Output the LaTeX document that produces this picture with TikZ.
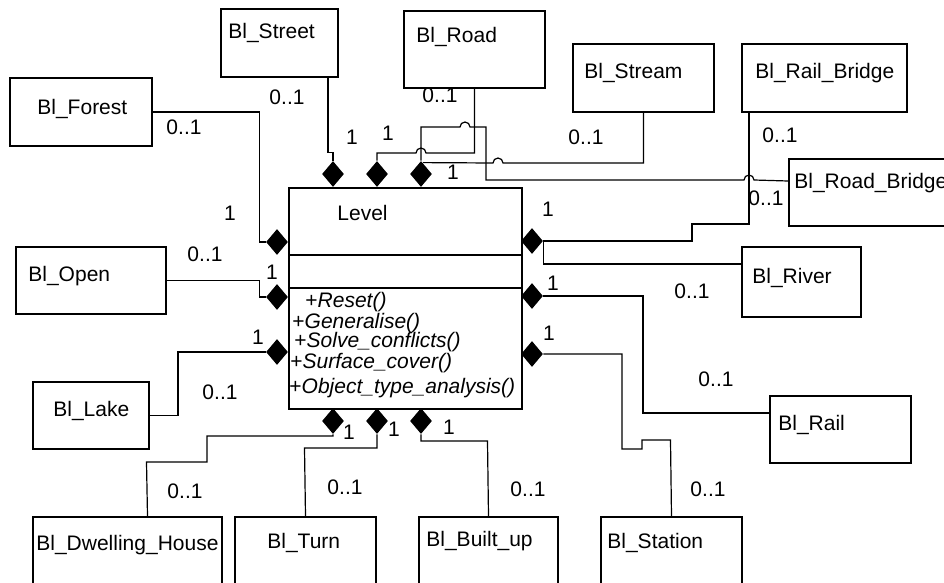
\documentclass[tikz,border=0pt]{standalone}
\usepackage{fontspec}
\setmainfont{Liberation Sans}
\usetikzlibrary{shapes.geometric}

\tikzset{
  cls/.style={draw,line width=1pt,anchor=north west,inner sep=0pt},
  txt/.style={anchor=west,inner sep=0pt},
  mult/.style={inner sep=0pt},
  agg/.style={diamond,fill=black,inner sep=0pt,minimum width=11pt,minimum height=13pt},
  conn/.style={line width=0.6pt},
  every node/.style={font=\fontsize{10.5}{12}\selectfont}
}
% line hops over crossing wires
\newcommand{\hopr}{arc[start angle=180,end angle=0,radius=2.5pt]}
\newcommand{\hopl}{arc[start angle=0,end angle=180,radius=2.5pt]}

\begin{document}
\begin{tikzpicture}[x=0.5pt,y=-0.5pt]

      \useasboundingbox (0,0) rectangle (944,583);

      % central class
      \node [cls,minimum width=116.5pt,minimum height=110.5pt] (level) at (288,187) {};
      \draw [line width=1pt] (level.west |- 0,255) -- (level.east |- 0,255);
      \draw [line width=1pt] (level.west |- 0,288) -- (level.east |- 0,288);
      \node [txt] (levelname) at (337,213) {Level};
      \node [txt] (op1) at (305,302) {+\textit{Reset()}};
      \node [txt] (op2) at (292,323) {+\textit{Generalise()}};
      \node [txt] (op3) at (294,342) {+\textit{Solve\_conflicts()}};
      \node [txt] (op4) at (290,363) {+\textit{Surface\_cover()}};
      \node [txt] (op5) at (289,388) {+\textit{Object\_type\_analysis()}};

      % part classes
      \node [cls,minimum width=58.5pt,minimum height=34pt] (street) at (220,8) {};
      \node [txt] (streetname) at (228,33) {Bl\_Street};
      \node [cls,minimum width=70.5pt,minimum height=38.5pt] (road) at (403,10) {};
      \node [txt] (roadname) at (416,37) {Bl\_Road};
      \node [cls,minimum width=70.5pt,minimum height=34pt] (stream) at (572,43) {};
      \node [txt] (streamname) at (584,73) {Bl\_Stream};
      \node [cls,minimum width=82.5pt,minimum height=34pt] (railbridge) at (741,43) {};
      \node [txt] (railbridgename) at (755,73) {Bl\_Rail\_Bridge};
      \node [cls,minimum width=86pt,minimum height=33.5pt] (roadbridge) at (788,158) {};
      \node [txt] (roadbridgename) at (794,183) {Bl\_Road\_Bridge};
      \node [cls,minimum width=71pt,minimum height=34pt] (forest) at (9,77) {};
      \node [txt] (forestname) at (37,109) {Bl\_Forest};
      \node [cls,minimum width=75pt,minimum height=33.5pt] (open) at (15,246) {};
      \node [txt] (openname) at (28,276) {Bl\_Open};
      \node [cls,minimum width=59.5pt,minimum height=35pt] (river) at (741,246) {};
      \node [txt] (rivername) at (752,278) {Bl\_River};
      \node [cls,minimum width=58pt,minimum height=33.5pt] (lake) at (32,381) {};
      \node [txt] (lakename) at (53,411) {Bl\_Lake};
      \node [cls,minimum width=70.5pt,minimum height=33.5pt] (rail) at (769,395) {};
      \node [txt] (railname) at (778,425) {Bl\_Rail};
      \node [cls,minimum width=94.5pt,minimum height=40pt] (dwelling) at (32,516) {};
      \node [txt] (dwellingname) at (36,545) {Bl\_Dwelling\_House};
      \node [cls,minimum width=70.5pt,minimum height=40pt] (turn) at (234,516) {};
      \node [txt] (turnname) at (267,543) {Bl\_Turn};
      \node [cls,minimum width=69.5pt,minimum height=40pt] (builtup) at (418,516) {};
      \node [txt] (builtupname) at (426,541) {Bl\_Built\_up};
      \node [cls,minimum width=70.5pt,minimum height=40pt] (station) at (600,516) {};
      \node [txt] (stationname) at (607,543) {Bl\_Station};

      % aggregation diamonds
      \node [agg] (dL1) at (277,242) {};
      \node [agg] (dL2) at (277,297) {};
      \node [agg] (dL3) at (277,352) {};
      \node [agg] (dT1) at (333,174) {};
      \node [agg] (dT2) at (377,174) {};
      \node [agg] (dT3) at (421,174) {};
      \node [agg] (dR1) at (532,241) {};
      \node [agg] (dR2) at (532,296) {};
      \node [agg] (dR3) at (532,354) {};
      \node [agg] (dB1) at (333,421) {};
      \node [agg] (dB2) at (377,421) {};
      \node [agg] (dB3) at (421,421) {};

      % wires
      \draw [conn] (forest.east) -| ([xshift=-3pt]dL1.west) -- (dL1.west);
      \draw [conn] (open.east) -| ([xshift=-3pt]dL2.west) -- (dL2.west);
      \draw [conn] (dL3.west) -- (178,352) |- (lake.east);
      \draw [conn] ([xshift=-5.5pt]street.south east) |- ([yshift=4pt]dT1.north) -- (dT1.north);
      \draw [conn] (road.south) |- (426,153) \hopl -- (377,153) -- (dT2.north);
      \draw [conn] (dT3.north) -- (421,127) -- (460,127) \hopr -- (486,127) -- (486,180)
            -- (744,180) \hopr -- ([yshift=5.75pt]roadbridge.west);
      \draw [conn] (stream.south) |- (503,163) \hopl -- ([xshift=1pt,yshift=-1pt]dT3.north);
      \draw [conn] ([xshift=4pt]railbridge.south west) -- (749,224) -- (692,224) -- (692,241) -- (dR1.east);
      \draw [conn] (dR1.east) |- ([yshift=9pt]river.west);
      \draw [conn] (dR2.east) -- (643,296) |- ([yshift=8.25pt]rail.west);
      \draw [conn] (dR3.east) -- (622,354) -- (622,449) -- (642,449) -- (642,440) -- (670.5,440) -- (station.north);
      \draw [conn] (dB1.south) -- (333,436) -- (207,436) -- (207,462) -- (146.5,462) -- ([xshift=10pt]dwelling.north);
      \draw [conn] (dB2.south) -- (377,448) -- (304.5,448) -- (turn.north);
      \draw [conn] (dB3.south) -- (421,441) -- (487.5,441) -- (builtup.north);

      % multiplicities
      \node [mult] (mL1) at (230,213) {1};
      \node [mult] (mL2) at (272,272) {1};
      \node [mult] (mL3) at (258,337) {1};
      \node [mult] (mT1) at (352,137) {1};
      \node [mult] (mT2) at (388,133) {1};
      \node [mult] (mT3) at (453,172) {1};
      \node [mult] (mR1) at (548,209) {1};
      \node [mult] (mR2) at (553,283) {1};
      \node [mult] (mR3) at (549,333) {1};
      \node [mult] (mB1) at (349,432) {1};
      \node [mult] (mB2) at (394,429) {1};
      \node [mult] (mB3) at (449,427) {1};
      \node [mult] (nForest) at (184,127) {0..1};
      \node [mult] (nStreet) at (287,97) {0..1};
      \node [mult] (nRoad) at (440,95) {0..1};
      \node [mult] (nStream) at (586,137) {0..1};
      \node [mult] (nRailBridge) at (780,135) {0..1};
      \node [mult] (nRoadBridge) at (766,198) {0..1};
      \node [mult] (nOpen) at (205,254) {0..1};
      \node [mult] (nRiver) at (692,291) {0..1};
      \node [mult] (nLake) at (220,392) {0..1};
      \node [mult] (nRail) at (716,379) {0..1};
      \node [mult] (nDwelling) at (185,491) {0..1};
      \node [mult] (nTurn) at (345,487) {0..1};
      \node [mult] (nBuiltup) at (528,489) {0..1};
      \node [mult] (nStation) at (708,489) {0..1};

    \end{tikzpicture}
\end{document}
